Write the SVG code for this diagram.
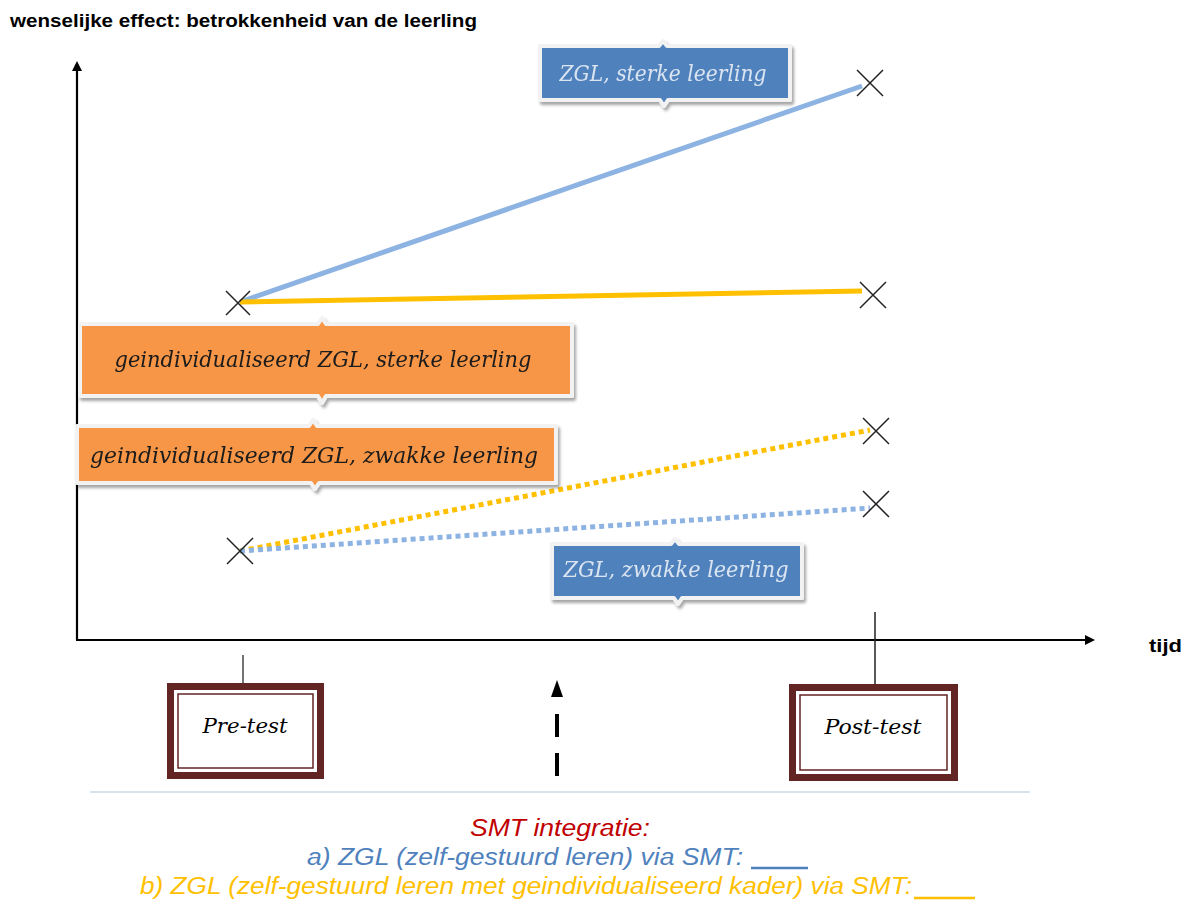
<svg xmlns="http://www.w3.org/2000/svg" width="1189" height="915" viewBox="0 0 1189 915">
<defs>
<style>
.title{font-family:"Liberation Sans",Arial,sans-serif;font-weight:bold;font-size:18px;fill:#000}
.blab{font-family:"DejaVu Serif","Liberation Serif",serif;font-style:italic;font-size:22px;fill:#dbe5f1}
.olab{font-family:"DejaVu Serif","Liberation Serif",serif;font-style:italic;font-size:22px;fill:#1a1a1a}
.tlab{font-family:"DejaVu Serif","Liberation Serif",serif;font-style:italic;font-size:21px;fill:#000}
.bot{font-family:"Liberation Sans",Arial,sans-serif;font-style:italic;font-size:23px}
.cross{stroke:#222;stroke-width:1.5;fill:none}
.axis{stroke:#000;stroke-width:2.2;fill:none}
.rim{stroke:#f2f2f2;stroke-width:4}
.frame{fill:#fff;stroke:#632523;stroke-width:7}
.inner{fill:none;stroke:#632523;stroke-width:1.5}
</style>
<marker id="ah" markerWidth="10" markerHeight="10" refX="5" refY="5" orient="auto" markerUnits="userSpaceOnUse">
<path d="M0,0 L10,5 L0,10 z" fill="#000"/>
</marker>
<filter id="sh" x="-5%" y="-20%" width="110%" height="150%">
<feDropShadow dx="2" dy="3" stdDeviation="1.5" flood-color="#000" flood-opacity="0.35"/>
</filter>
</defs>
<rect width="1189" height="915" fill="#fff"/>
<text class="title" x="10" y="27" textLength="467" lengthAdjust="spacingAndGlyphs">wenselijke effect: betrokkenheid van de leerling</text>
<g id="connectors">
<line class="axis" x1="77" y1="640" x2="77" y2="66" marker-end="url(#ah)"/>
<line class="axis" x1="76" y1="640" x2="1090" y2="640" marker-end="url(#ah)"/>
<line x1="243" y1="655" x2="243" y2="683" stroke="#444" stroke-width="1.5"/>
<line x1="875" y1="612" x2="875" y2="685" stroke="#222" stroke-width="1.5"/>
<line x1="240" y1="302" x2="862" y2="86" stroke="#8db3e2" stroke-width="5"/>
<line x1="240" y1="302" x2="862" y2="291" stroke="#ffc000" stroke-width="5"/>
<line x1="240" y1="551" x2="870" y2="430" stroke="#ffc000" stroke-width="5" stroke-dasharray="5,4"/>
<line x1="240" y1="551" x2="870" y2="508" stroke="#8db3e2" stroke-width="5" stroke-dasharray="5,4"/>
<line x1="557" y1="776" x2="557" y2="705" stroke="#000" stroke-width="4" stroke-dasharray="23,16"/>
<path d="M551,697 L557,680 L563,697 z" fill="#000"/>
<line x1="90" y1="792" x2="1030" y2="792" stroke="#b4c7dc" stroke-width="1.2"/>
</g>
<g id="crosses">
<path class="cross" d="M226,291 L250,315 M250,291 L226,315"/>
<path class="cross" d="M857,70 L883,96 M883,70 L857,96"/>
<path class="cross" d="M860,282 L886,308 M886,282 L860,308"/>
<path class="cross" d="M863,418 L889,444 M889,418 L863,444"/>
<path class="cross" d="M863,491 L889,517 M889,491 L863,517"/>
<path class="cross" d="M227,538 L253,564 M253,538 L227,564"/>
</g>
<text class="title" x="1149" y="652" textLength="33" lengthAdjust="spacingAndGlyphs">tijd</text>
<g id="box-zgl-sterk" filter="url(#sh)">
<path d="M540,46 L659,46 L663,41 L667,46 L790,46 L790,100 L668,100 L664,106 L660,100 L540,100 z" fill="#4f81bd" class="rim" stroke-linejoin="round"/>
<text class="blab" x="663" y="81" text-anchor="middle" textLength="207" lengthAdjust="spacingAndGlyphs">ZGL, sterke leerling</text>
</g>
<g id="box-zgl-zwak" filter="url(#sh)">
<path d="M552,544 L671,544 L675,539 L679,544 L802,544 L802,598 L682,598 L678,604 L674,598 L552,598 z" fill="#4f81bd" class="rim" stroke-linejoin="round"/>
<text class="blab" x="676" y="577" text-anchor="middle" textLength="225" lengthAdjust="spacingAndGlyphs">ZGL, zwakke leerling</text>
</g>
<g id="box-gzgl-sterk" filter="url(#sh)">
<path d="M80,324 L318,324 L322,318 L326,324 L572,324 L572,396 L326,396 L322,403 L318,396 L80,396 z" fill="#f79646" class="rim" stroke-linejoin="round"/>
<text class="olab" x="323" y="367" text-anchor="middle" textLength="417" lengthAdjust="spacingAndGlyphs">geindividualiseerd ZGL, sterke leerling</text>
</g>
<g id="box-gzgl-zwak" filter="url(#sh)">
<path d="M77,426 L309,426 L313,420 L317,426 L556,426 L556,483 L319,483 L315,489 L311,483 L77,483 z" fill="#f79646" class="rim" stroke-linejoin="round"/>
<text class="olab" x="314" y="463" text-anchor="middle" textLength="448" lengthAdjust="spacingAndGlyphs">geindividualiseerd ZGL, zwakke leerling</text>
</g>
<g id="pre-test">
<rect class="frame" x="170.5" y="686.5" width="150" height="89"/>
<rect class="inner" x="178" y="694" width="135" height="74"/>
<text class="tlab" x="245" y="733" text-anchor="middle" textLength="85" lengthAdjust="spacingAndGlyphs">Pre-test</text>
</g>
<g id="post-test">
<rect class="frame" x="792.5" y="687.5" width="162" height="90"/>
<rect class="inner" x="800" y="695" width="147" height="75"/>
<text class="tlab" x="873" y="734" text-anchor="middle" textLength="97" lengthAdjust="spacingAndGlyphs">Post-test</text>
</g>
<g id="legend">
<text class="bot" x="470" y="836" fill="#c00000" textLength="180" lengthAdjust="spacingAndGlyphs">SMT integratie:</text>
<text class="bot" x="307" y="865" fill="#4f81bd" textLength="436" lengthAdjust="spacingAndGlyphs">a) ZGL (zelf-gestuurd leren) via SMT:</text>
<line x1="751" y1="868" x2="808" y2="868" stroke="#4f81bd" stroke-width="2.5"/>
<text class="bot" x="140" y="894" fill="#ffc000" textLength="772" lengthAdjust="spacingAndGlyphs">b) ZGL (zelf-gestuurd leren met geindividualiseerd kader) via SMT:</text>
<line x1="914" y1="898" x2="975" y2="898" stroke="#ffc000" stroke-width="2.5"/>
</g>
</svg>
